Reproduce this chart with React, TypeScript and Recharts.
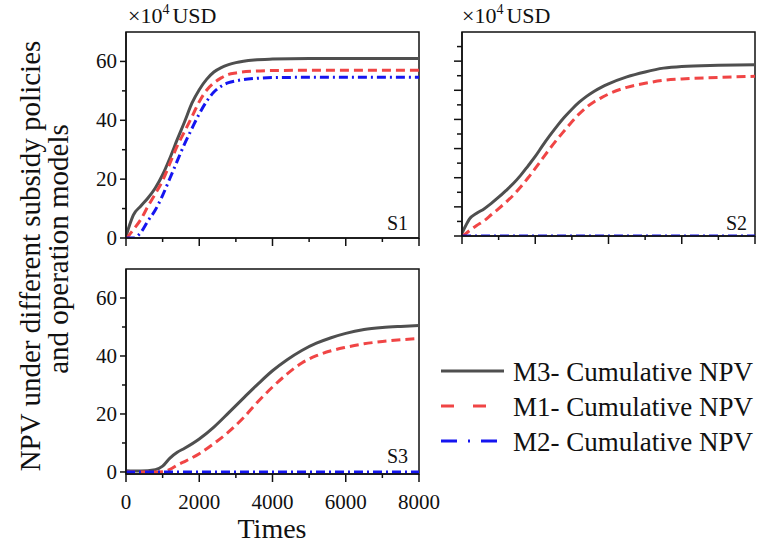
import React from 'react';
import { LineChart, Line, XAxis, YAxis, ReferenceArea } from 'recharts';

// ---------- data ----------
const X_TICKS = [0, 1000, 2000, 3000, 4000, 5000, 6000, 7000, 8000];
const Y_TICKS_MAIN = [0, 10, 20, 30, 40, 50, 60];
const Y_TICKS_S2 = [0, 5, 10, 15, 20, 25, 30, 35, 40, 45, 50, 55, 60, 65];

const SERIES_NAMES = ['M3- Cumulative NPV', 'M1- Cumulative NPV', 'M2- Cumulative NPV'];

const S1_TIMES = [0, 100, 200, 400, 600, 800, 1000, 1200, 1400, 1600, 1800, 2000, 2200, 2400, 2600, 2800, 3000, 3500, 4000, 5000, 6000, 7000, 8000];
const S1_M3 = [0.5, 4.5, 7.8, 10.8, 13.6, 17, 21.5, 27.2, 33.5, 39.5, 45.8, 50.4, 53.9, 56.4, 57.9, 58.9, 59.6, 60.5, 60.8, 61, 61, 61, 61];
const S1_M1 = [0, 1.2, 2.8, 6.2, 10.8, 15, 19.5, 25.4, 31.3, 36.2, 41.2, 46.3, 50.2, 52.7, 54.4, 55.6, 56.1, 56.7, 56.9, 57, 57, 57, 57];
const S1_M2 = [0, 0, 0, 1.8, 5.8, 9.5, 14.5, 20.3, 26.2, 32, 37.2, 42.2, 46.4, 49.6, 51.6, 52.8, 53.4, 54.2, 54.5, 54.6, 54.6, 54.6, 54.6];

const S2_TIMES = [0, 100, 200, 400, 600, 800, 1000, 1200, 1400, 1600, 1800, 2000, 2200, 2400, 2600, 2800, 3000, 3200, 3400, 3600, 3800, 4000, 4500, 5000, 5500, 6000, 7000, 8000];
const S2_M3 = [1, 3.5, 5.8, 7.8, 9.3, 11.2, 13.3, 15.6, 18, 20.8, 24, 27.3, 31, 34.5, 37.8, 40.8, 43.5, 45.9, 47.9, 49.6, 51, 52.2, 54.6, 56.3, 57.6, 58.2, 58.6, 58.8];
const S2_M1 = [0, 0.8, 1.8, 3.6, 5.2, 7.3, 9.4, 11.6, 14, 16.8, 19.9, 23.2, 26.6, 30, 33.2, 36.2, 39.2, 41.9, 44.2, 46, 47.4, 48.7, 51, 52.4, 53.4, 53.9, 54.4, 54.8];
const S2_M2 = [0, 0, 0, 0, 0, 0, 0, 0, 0, 0, 0, 0, 0, 0, 0, 0, 0, 0, 0, 0, 0, 0, 0, 0, 0, 0, 0, 0];

const S3_TIMES = [0, 400, 800, 1000, 1200, 1400, 1600, 2000, 2400, 2800, 3200, 3600, 4000, 4400, 4800, 5200, 5600, 6000, 6500, 7000, 7500, 8000];
const S3_M3 = [0.4, 0.3, 0.8, 2, 4.8, 6.8, 8.2, 11.4, 15.5, 20.4, 25.4, 30.3, 34.9, 38.7, 41.9, 44.4, 46.3, 47.8, 49.1, 49.8, 50.2, 50.5];
const S3_M1 = [0, 0, 0, 0.1, 0.9, 2.4, 3.6, 6.3, 9.8, 13.8, 18.6, 24.2, 29.3, 33.8, 37.6, 40.1, 41.8, 43, 44.2, 45, 45.6, 46];
const S3_M2 = [0, 0, 0, 0, 0, 0, 0, 0, 0, 0, 0, 0, 0, 0, 0, 0, 0, 0, 0, 0, 0, 0];

const rows = (times: number[], m3: number[], m1: number[], m2: number[]) =>
  times.map((t, i) => ({ t, m3: m3[i], m1: m1[i], m2: m2[i] }));

const DATA_S1 = rows(S1_TIMES, S1_M3, S1_M1, S1_M2);
const DATA_S2 = rows(S2_TIMES, S2_M3, S2_M1, S2_M2);
const DATA_S3 = rows(S3_TIMES, S3_M3, S3_M1, S3_M2);

// ---------- styles ----------
const FONT = '"Liberation Serif", "Times New Roman", serif';
const C_M3 = '#4f4f4f';
const C_M1 = '#f04545';
const C_M2 = '#1515f0';
const AXIS = '#111';

const makeXTick = (showLabel: boolean) => (props: any) => {
  const { x, y, payload } = props;
  const v = payload.value;
  const major = v % 2000 === 0;
  return (
    <g>
      <line x1={x} y1={y} x2={x} y2={y + (major ? 8 : 4)} stroke={AXIS} strokeWidth={1.5} />
      {showLabel && major ? (
        <text x={x} y={y + 35} textAnchor="middle" fontFamily={FONT} fontSize={21} fill="#111">
          {v}
        </text>
      ) : null}
    </g>
  );
};

const makeYTick = (step: number, showLabel: boolean, majorLen: number, minorLen: number) => (props: any) => {
  const { x, y, payload } = props;
  const v = payload.value;
  const major = v % step === 0;
  return (
    <g>
      <line x1={x} y1={y} x2={x - (major ? majorLen : minorLen)} y2={y} stroke={AXIS} strokeWidth={1.5} />
      {showLabel && major ? (
        <text x={x - 9} y={y + 7} textAnchor="end" fontFamily={FONT} fontSize={21} fill="#111">
          {v}
        </text>
      ) : null}
    </g>
  );
};

type PanelProps = {
  data: any[];
  left: number;
  top: number;
  width: number;
  height: number;
  margin: { top: number; right: number; bottom: number; left: number };
  yWidth: number;
  xHeight: number;
  yMin: number;
  yTicks: number[];
  yStep: number;
  yLabels: boolean;
  xLabels: boolean;
  majorLen: number;
  minorLen: number;
};

const Panel = (p: PanelProps) => (
  <div style={{ position: 'absolute', left: p.left, top: p.top }}>
    <LineChart width={p.width} height={p.height} data={p.data} margin={p.margin}>
      <XAxis
        dataKey="t"
        type="number"
        domain={[0, 8000]}
        ticks={X_TICKS}
        interval={0}
        height={p.xHeight}
        tickSize={0}
        tickMargin={0}
        tickLine={false}
        axisLine={{ stroke: AXIS, strokeWidth: 1.5 }}
        tick={makeXTick(p.xLabels)}
        allowDataOverflow
      />
      <YAxis
        type="number"
        domain={[p.yMin, 70]}
        ticks={p.yTicks}
        interval={0}
        width={p.yWidth}
        tickSize={0}
        tickMargin={0}
        tickLine={false}
        axisLine={{ stroke: AXIS, strokeWidth: 1.5 }}
        tick={makeYTick(p.yStep, p.yLabels, p.majorLen, p.minorLen)}
        allowDataOverflow
      />
      <ReferenceArea x1={0} x2={8000} y1={p.yMin} y2={70} fill="none" stroke={AXIS} strokeWidth={1.5} />
      <Line type="monotone" dataKey="m3" name={SERIES_NAMES[0]} stroke={C_M3} strokeWidth={3} dot={false} isAnimationActive={false} />
      <Line type="monotone" dataKey="m1" name={SERIES_NAMES[1]} stroke={C_M1} strokeWidth={3} strokeDasharray="9 5" dot={false} isAnimationActive={false} />
      <Line type="monotone" dataKey="m2" name={SERIES_NAMES[2]} stroke={C_M2} strokeWidth={3} strokeDasharray="9 4 2 4" dot={false} isAnimationActive={false} />
    </LineChart>
  </div>
);

export default function App() {
  return (
    <div style={{ position: 'absolute', left: 0, top: 0, width: 766, height: 547, background: '#fff', overflow: 'hidden' }}>
      <Panel
        data={DATA_S1}
        left={0}
        top={0}
        width={440}
        height={260}
        margin={{ top: 32, right: 21, bottom: 2, left: 76 }}
        yWidth={50}
        xHeight={20}
        yMin={0}
        yTicks={Y_TICKS_MAIN}
        yStep={20}
        yLabels
        xLabels={false}
        majorLen={6}
        minorLen={4}
      />
      <Panel
        data={DATA_S2}
        left={430}
        top={0}
        width={336}
        height={260}
        margin={{ top: 32, right: 11, bottom: 4, left: 12 }}
        yWidth={20}
        xHeight={20}
        yMin={0}
        yTicks={Y_TICKS_S2}
        yStep={10}
        yLabels={false}
        xLabels={false}
        majorLen={8}
        minorLen={5}
      />
      <Panel
        data={DATA_S3}
        left={0}
        top={250}
        width={440}
        height={297}
        margin={{ top: 19, right: 21, bottom: 23, left: 76 }}
        yWidth={50}
        xHeight={50}
        yMin={-0.7}
        yTicks={Y_TICKS_MAIN}
        yStep={20}
        yLabels
        xLabels
        majorLen={6}
        minorLen={4}
      />
      <svg
        width={766}
        height={547}
        style={{ position: 'absolute', left: 0, top: 0, pointerEvents: 'none' }}
        fontFamily={FONT}
        fill="#111"
      >
        {/* y-axis title */}
        <text transform="translate(40,256) rotate(-90)" textAnchor="middle" fontSize={29}>
          NPV under different subsidy policies
        </text>
        <text transform="translate(68,249) rotate(-90)" textAnchor="middle" fontSize={29}>
          and operation models
        </text>
        {/* x-axis title */}
        <text x={272} y={538} textAnchor="middle" fontSize={28}>
          Times
        </text>
        {/* unit labels */}
        <text x={128} y={23} fontSize={22}>
          ×10<tspan dy={-9} fontSize={14}>4</tspan>
          <tspan dy={9} dx={3}>USD</tspan>
        </text>
        <text x={462} y={23} fontSize={22}>
          ×10<tspan dy={-9} fontSize={14}>4</tspan>
          <tspan dy={9} dx={3}>USD</tspan>
        </text>
        {/* scenario labels */}
        <text x={408} y={230} textAnchor="end" fontSize={20}>S1</text>
        <text x={747} y={230} textAnchor="end" fontSize={20}>S2</text>
        <text x={408} y={463} textAnchor="end" fontSize={20}>S3</text>
        {/* legend */}
        <line x1={441} y1={371} x2={504} y2={371} stroke={C_M3} strokeWidth={3} />
        <text x={513} y={381} fontSize={27}>{SERIES_NAMES[0]}</text>
        <line x1={441} y1={406} x2={504} y2={406} stroke={C_M1} strokeWidth={3} strokeDasharray="13 19" />
        <text x={513} y={416} fontSize={27}>{SERIES_NAMES[1]}</text>
        <line x1={441} y1={441} x2={504} y2={441} stroke={C_M2} strokeWidth={3} strokeDasharray="16 11 2 11" />
        <text x={513} y={451} fontSize={27}>{SERIES_NAMES[2]}</text>
      </svg>
    </div>
  );
}
